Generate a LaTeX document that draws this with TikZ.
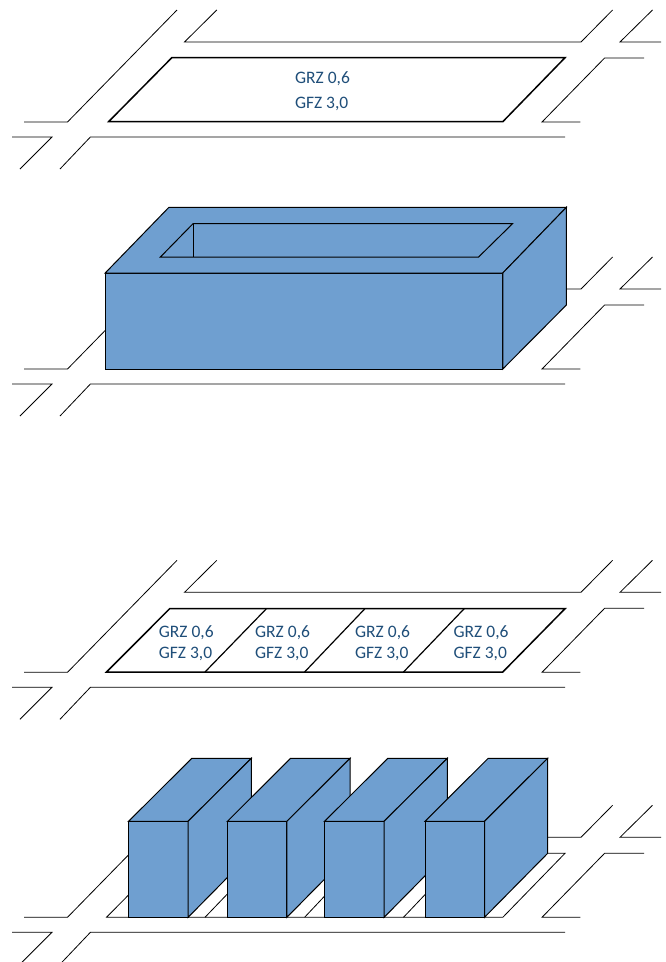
\documentclass[tikz,border=0pt]{standalone}
\usepackage{fontspec}
\setmainfont{Carlito}
\definecolor{massblue}{HTML}{6F9FD0}
\definecolor{labelblue}{HTML}{1F4E79}
\tikzset{
  street/.style={draw=black,line width=0.8pt,line join=miter},
  lotthick/.style={draw=black,line width=1.5pt,line join=miter},
  lotthin/.style={draw=black,line width=0.8pt,line join=miter},
  mass/.style={draw=black,line width=1pt,fill=massblue,line join=miter},
  farlabel/.style={text=labelblue,font=\fontsize{17.5}{19}\selectfont,inner sep=0pt,anchor=west}
}
\newcommand{\streetgrid}[1]{%
  \begin{scope}[yshift=-#1pt]
    \draw[street] (177,10) -- (67.5,122) -- (24,122);
    \draw[street] (216.8,10) -- (184.5,42) -- (581,42) -- (612.6,10);
    \draw[street] (652.5,10) -- (620,42) -- (661,42);
    \draw[street] (644,58) -- (604.6,58) -- (542,122) -- (580.4,122);
    \draw[street] (12,137) -- (52,137) -- (20,169);
    \draw[street] (60,169) -- (90.4,137) -- (565,137);
  \end{scope}}
\newcommand{\slab}[1]{%
  \begin{scope}[xshift=#1pt]
    \draw[mass] (0,917.3) -- (0,821.3) -- (59.5,821.3) -- (59.5,917.3) -- cycle;
    \draw[mass] (0,821.3) -- (63.2,758.3) -- (122.7,758.3) -- (59.5,821.3) -- cycle;
    \draw[mass] (59.5,917.3) -- (59.5,821.3) -- (122.7,758.3) -- (122.7,853.3) -- cycle;
  \end{scope}}
\begin{document}
\begin{tikzpicture}[x=1pt,y=-1pt]
\useasboundingbox (0,0) rectangle (665,962);
% panel 1
\streetgrid{0}
\draw[lotthick] (171.8,57.7) -- (565,57.7) -- (502.8,121.7) -- (108.6,121.7) -- cycle;
\node[farlabel] (a1) at (294.9,78.9) {GRZ 0,6};
\node[farlabel] (a2) at (294.9,104) {GFZ 3,0};
% panel 2
\streetgrid{247}
\draw[mass] (105.2,273) rectangle (502.8,369);
\draw[mass] (105.2,273) -- (168.9,207.3) -- (566.4,207.3) -- (502.8,273) -- cycle;
\draw[mass] (502.8,369) -- (502.8,273) -- (566.4,207.3) -- (566.4,305) -- cycle;
\draw[mass] (193,223.7) -- (512.5,223.7) -- (478.6,257) -- (160.4,257) -- cycle;
\draw[mass] (193,223.7) -- (193,257);
% panel 3
\streetgrid{550.3}
\draw[lotthick] (169.7,608.7) -- (565,608.7) -- (502.8,672) -- (106.5,672) -- cycle;
\draw[lotthick,line width=1.2pt] (205,672) -- (266.4,608.7);
\draw[lotthick,line width=1.2pt] (304.6,672) -- (364.9,608.7);
\draw[lotthick,line width=1.2pt] (403.5,672) -- (464.2,608.7);
\node[farlabel] (b1) at (158.7,632.6) {GRZ 0,6};
\node[farlabel] (b2) at (158.7,654.2) {GFZ 3,0};
\node[farlabel] (c1) at (255,632.6) {GRZ 0,6};
\node[farlabel] (c2) at (255,654.2) {GFZ 3,0};
\node[farlabel] (d1) at (355,632.6) {GRZ 0,6};
\node[farlabel] (d2) at (355,654.2) {GFZ 3,0};
\node[farlabel] (e1) at (453.5,632.6) {GRZ 0,6};
\node[farlabel] (e2) at (453.5,654.2) {GFZ 3,0};
% panel 4
\streetgrid{795.3}
\draw[lotthin] (169.7,853.3) -- (565,853.3) -- (502.8,917.3) -- (106.5,917.3) -- cycle;
\draw[lotthin] (205,917.3) -- (266.4,853.3);
\draw[lotthin] (304.6,917.3) -- (364.9,853.3);
\draw[lotthin] (403.5,917.3) -- (464.2,853.3);
\slab{128.6}
\slab{227.4}
\slab{324.6}
\slab{425}
\end{tikzpicture}
\end{document}
